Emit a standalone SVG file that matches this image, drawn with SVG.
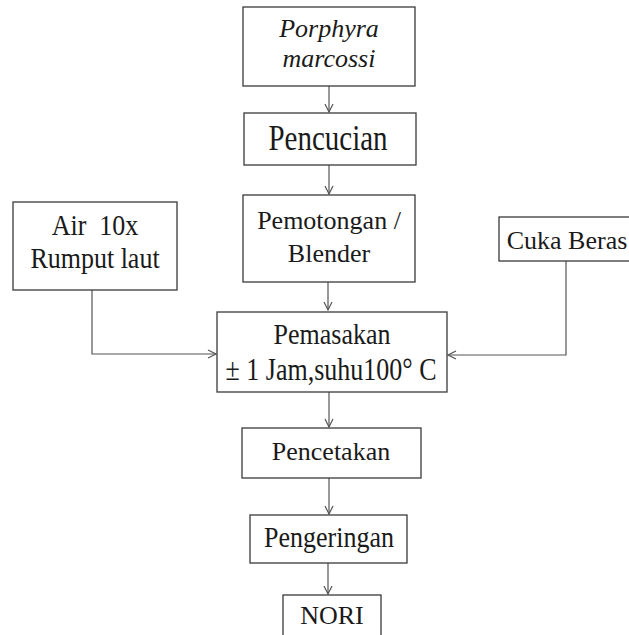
<svg xmlns="http://www.w3.org/2000/svg" width="629" height="635" viewBox="0 0 629 635">
<defs>
<style>
.box{fill:#fff;stroke:#3a3a3a;stroke-width:1.3}
.t{font-size:26px;fill:#1a1a1a;text-anchor:middle}
.it{font-style:italic}
.ln{fill:none;stroke:#555;stroke-width:1.2}
</style>
<marker id="ah" markerWidth="12" markerHeight="12" refX="9" refY="5" orient="auto" markerUnits="userSpaceOnUse">
<path d="M1,1 L9,5 L1,9" fill="none" stroke="#555" stroke-width="1.2"/>
</marker>
</defs>
<rect width="629" height="635" fill="#fff"/>
<g id="connectors">
<line class="ln" x1="329" y1="86" x2="329" y2="112" marker-end="url(#ah)"/>
<line class="ln" x1="329" y1="165" x2="329" y2="194" marker-end="url(#ah)"/>
<line class="ln" x1="328" y1="282" x2="328" y2="310" marker-end="url(#ah)"/>
<line class="ln" x1="329" y1="392" x2="329" y2="427" marker-end="url(#ah)"/>
<line class="ln" x1="329" y1="478" x2="329" y2="514" marker-end="url(#ah)"/>
<line class="ln" x1="328" y1="563" x2="328" y2="594" marker-end="url(#ah)"/>
<polyline class="ln" points="92,290 92,354 216,354" marker-end="url(#ah)"/>
<polyline class="ln" points="566,261 566,355 448,355" marker-end="url(#ah)"/>
</g>
<g font-family="'Liberation Serif', 'Times New Roman', serif">
<g id="porphyra">
<rect class="box" x="243" y="7" width="172" height="79"/>
<text class="t it" x="329" y="37">Porphyra</text>
<text class="t it" x="329" y="67">marcossi</text>
</g>
<g id="pencucian">
<rect class="box" x="244" y="113" width="172" height="52"/>
<text class="t" transform="translate(328,150) scale(1,1.2)" style="font-size:29px">Pencucian</text>
</g>
<g id="pemotongan">
<rect class="box" x="243" y="195" width="172" height="87"/>
<text class="t" x="329" y="229">Pemotongan /</text>
<text class="t" x="329" y="262">Blender</text>
</g>
<g id="air">
<rect class="box" x="13" y="202" width="164" height="88"/>
<text class="t" transform="translate(95,235) scale(1,1.15)" xml:space="preserve">Air  10x</text>
<text class="t" transform="translate(95,268) scale(1,1.15)">Rumput laut</text>
</g>
<g id="cuka">
<rect class="box" x="499" y="217" width="140" height="44"/>
<text class="t" x="567" y="249">Cuka Beras</text>
</g>
<g id="pemasakan">
<rect class="box" x="217" y="312" width="230" height="80"/>
<text class="t" transform="translate(332,344) scale(1,1.1)">Pemasakan</text>
<text class="t" transform="translate(331,380) scale(1,1.22)">± 1 Jam,suhu100° C</text>
</g>
<g id="pencetakan">
<rect class="box" x="242" y="428" width="179" height="50"/>
<text class="t" x="331" y="460">Pencetakan</text>
</g>
<g id="pengeringan">
<rect class="box" x="250" y="515" width="157" height="48"/>
<text class="t" transform="translate(329,547) scale(1,1.1)">Pengeringan</text>
</g>
<g id="nori">
<rect class="box" x="283" y="595" width="98" height="50"/>
<text class="t" x="332" y="624">NORI</text>
</g>
</g>
</svg>
